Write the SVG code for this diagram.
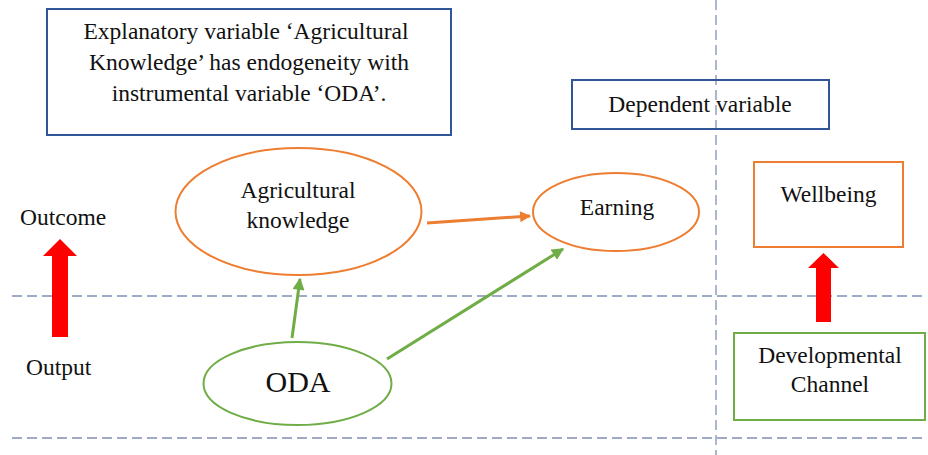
<svg xmlns="http://www.w3.org/2000/svg" width="928" height="455" viewBox="0 0 928 455">
<style>
text{font-family:"Liberation Serif","Times New Roman",serif;fill:#111;text-anchor:middle;font-size:23.5px}
.grid{stroke:#8090B4;stroke-width:1.3;stroke-dasharray:10 5;fill:none}
.blue{fill:#fff;stroke:#2F5597;stroke-width:2}
.orange{fill:#fff;stroke:#ED7D31;stroke-width:2}
.green{fill:#fff;stroke:#70AD47;stroke-width:2}
.red{fill:#FF0000}
.ca{stroke:#ED7D31;stroke-width:3;fill:none}
.cg{stroke:#70AD47;stroke-width:3;fill:none}
</style>
<defs>
<marker id="ho" viewBox="0 0 10 10" refX="9" refY="5" markerWidth="12" markerHeight="11" markerUnits="userSpaceOnUse" orient="auto"><path d="M0,0 L10,5 L0,10 z" fill="#ED7D31"/></marker>
<marker id="hg" viewBox="0 0 10 10" refX="9" refY="5" markerWidth="13" markerHeight="12" markerUnits="userSpaceOnUse" orient="auto"><path d="M0,0 L10,5 L0,10 z" fill="#70AD47"/></marker>
</defs>
<rect width="928" height="455" fill="#fff"/>
<g id="gridlines">
<line class="grid" x1="12" y1="296" x2="926" y2="296"/>
<line class="grid" x1="12" y1="438" x2="922" y2="438"/>
<line class="grid" x1="716" y1="0" x2="716" y2="455"/>
</g>
<g id="note">
<rect class="blue" x="47" y="9" width="404" height="126"/>
<text x="246" y="39">Explanatory variable ‘Agricultural</text>
<text x="249" y="70">Knowledge’ has endogeneity with</text>
<text x="249" y="101">instrumental variable ‘ODA’.</text>
</g>
<g id="dependent">
<rect class="blue" x="572" y="80" width="257" height="49" fill-opacity="0"/>
<text x="700" y="112">Dependent variable</text>
</g>
<g id="agri">
<ellipse class="orange" cx="298.5" cy="211.5" rx="123" ry="63.5"/>
<text x="298" y="198">Agricultural</text>
<text x="298" y="228">knowledge</text>
</g>
<g id="earning">
<ellipse class="orange" cx="616" cy="212" rx="83" ry="39"/>
<text x="617" y="215">Earning</text>
</g>
<g id="oda">
<ellipse class="green" cx="297.5" cy="383.5" rx="94" ry="41.5"/>
<text x="298" y="392" style="font-size:30px">ODA</text>
</g>
<g id="wellbeing">
<rect class="orange" x="754" y="162" width="149" height="85"/>
<text x="828.5" y="202">Wellbeing</text>
</g>
<g id="channel">
<rect class="green" x="734" y="333" width="191" height="87"/>
<text x="830" y="363">Developmental</text>
<text x="830" y="392">Channel</text>
</g>
<g id="outcome-label"><text x="20" y="225" style="text-anchor:start">Outcome</text></g>
<g id="output-label"><text x="26" y="375" style="text-anchor:start">Output</text></g>
<g id="connectors">
<line class="ca" x1="427" y1="223" x2="530" y2="216" marker-end="url(#ho)"/>
<line class="cg" x1="292" y1="338" x2="300" y2="279" marker-end="url(#hg)"/>
<line class="cg" x1="387" y1="359" x2="563" y2="249" marker-end="url(#hg)"/>
<polygon class="red" points="60,239 77,256 68,256 68,337 52,337 52,256 43,256"/>
<polygon class="red" points="823.5,253 839,268 831,268 831,322 816,322 816,268 808,268"/>
</g>
</svg>
